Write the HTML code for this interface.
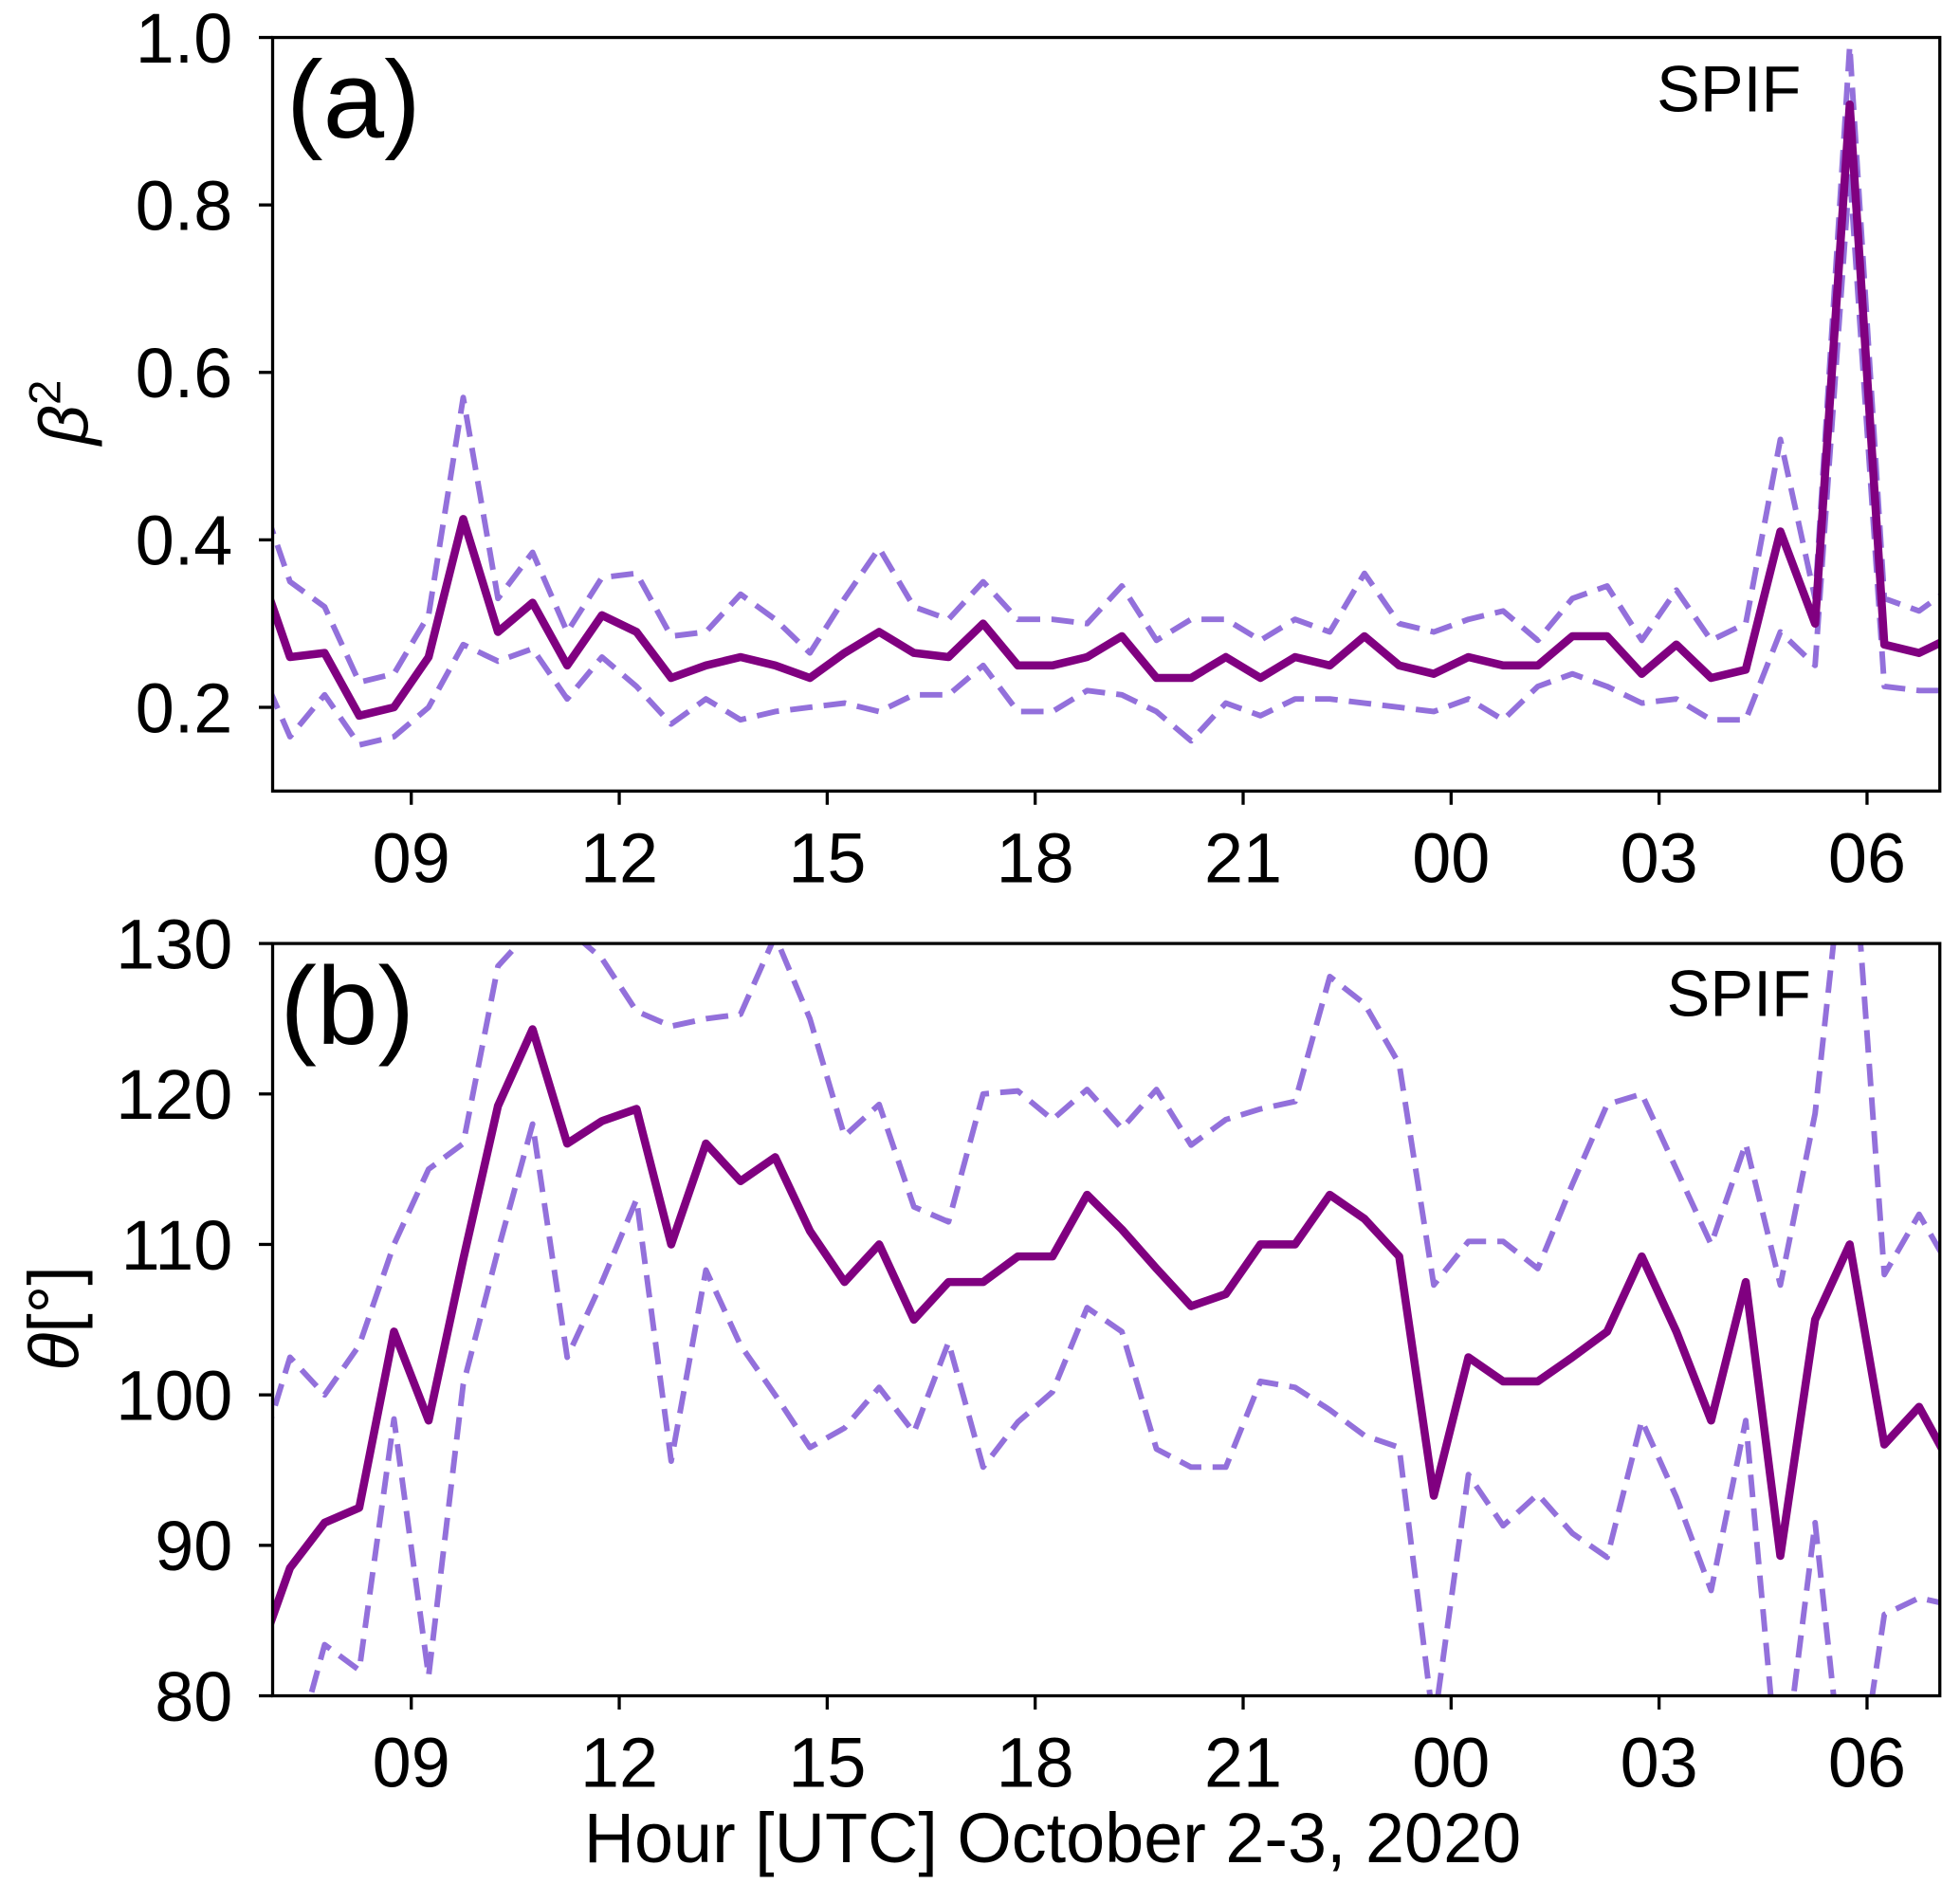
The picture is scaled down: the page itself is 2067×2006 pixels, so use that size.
<!DOCTYPE html>
<html><head><meta charset="utf-8"><style>
html,body{margin:0;padding:0;background:#fff;}
svg{display:block;}
text{font-family:"Liberation Sans","DejaVu Sans",sans-serif;fill:#000;}
</style></head><body>
<svg id="chart" width="2067" height="2006" viewBox="0 0 1568 1522" xmlns="http://www.w3.org/2000/svg">
<defs>
<clipPath id="clipA"><rect x="218" y="30" width="1334" height="603"/></clipPath>
<clipPath id="clipB"><rect x="218" y="755" width="1334" height="602"/></clipPath>
</defs>
<g id="panelA"></g>
<g id="panelB"></g>
</svg>
<script>
// sample times (hours since Oct 2 00 UTC), half-hourly
const times = [];
for (let k = 0; k < 50; k++) times.push(6.75 + 0.5 * k);
const xTickLabels = ["09","12","15","18","21","00","03","06"];
const xTickHours = [9,12,15,18,21,24,27,30];

const betaMean = [0.38,0.26,0.265,0.19,0.2,0.26,0.425,0.29,0.325,0.25,0.31,0.29,0.235,0.25,0.26,0.25,0.235,0.265,0.29,0.265,0.26,0.3,0.25,0.25,0.26,0.285,0.235,0.235,0.26,0.235,0.26,0.25,0.285,0.25,0.24,0.26,0.25,0.25,0.285,0.285,0.24,0.275,0.235,0.245,0.41,0.3,0.92,0.275,0.265,0.285];
const betaUpper = [0.47,0.35,0.32,0.23,0.24,0.31,0.57,0.33,0.385,0.29,0.355,0.36,0.285,0.29,0.335,0.305,0.265,0.33,0.39,0.32,0.305,0.35,0.305,0.305,0.3,0.345,0.28,0.305,0.305,0.28,0.305,0.29,0.36,0.3,0.29,0.305,0.315,0.28,0.33,0.345,0.28,0.34,0.28,0.3,0.52,0.33,0.99,0.33,0.315,0.345];
const betaLower = [0.26,0.165,0.215,0.155,0.165,0.2,0.275,0.255,0.27,0.21,0.26,0.225,0.18,0.21,0.185,0.195,0.2,0.205,0.195,0.215,0.215,0.25,0.195,0.195,0.22,0.215,0.195,0.16,0.205,0.19,0.21,0.21,0.205,0.2,0.195,0.21,0.185,0.225,0.24,0.225,0.205,0.21,0.185,0.185,0.29,0.25,0.84,0.225,0.22,0.22];
const betaTicks = [0.2,0.4,0.6,0.8,1.0];
const betaTickLabels = ["0.2","0.4","0.6","0.8","1.0"];

const thetaMean = [82,88.5,91.5,92.5,104.2,98.3,109,119.2,124.3,116.7,118.2,119,110,116.7,114.2,115.8,110.9,107.5,110,105,107.5,107.5,109.2,109.2,113.3,111,108.4,105.9,106.7,110,110,113.3,111.7,109.2,93.3,102.5,100.9,100.9,102.5,104.2,109.2,104.2,98.3,107.5,89.3,105,110,96.7,99.2,95];
const thetaUpper = [95,102.5,100,103.3,110,115,116.7,128.5,131,131,129,125.5,124.5,125,125.3,130.5,125,117.2,119.3,112.5,111.5,120,120.2,118.3,120.3,117.7,120.3,116.6,118.3,119,119.5,127.8,126,122,107.3,110.2,110.2,108.4,114,119.3,120,115,110,116.7,107.3,118.7,140,108,112,108];
const thetaLower = [65,75,83.4,81.7,98.4,81.3,100.7,109.6,118,102.5,107.5,113,95.6,108.3,103.3,100,96.5,97.8,100.5,97.5,103.5,95.2,98.2,100.2,105.8,104.2,96.4,95.2,95.2,100.9,100.5,99,97.3,96.5,78,94.7,91.3,93.4,90.8,89.2,98.3,93.2,87,98.3,73,91.5,70,85.4,86.5,86];
const thetaTicks = [80,90,100,110,120,130];
const thetaTickLabels = ["80","90","100","110","120","130"];

const NS = "http://www.w3.org/2000/svg";
const L = 218, R = 1552;
function xScale(t){ return L + (t - 7) * (R - L) / (31.05 - 7); }
function mk(tag, attrs, parent){ const e = document.createElementNS(NS, tag); for (const k in attrs) e.setAttribute(k, attrs[k]); parent.appendChild(e); return e; }

function drawPanel(g, top, bottom, ymin, ymax, series, ticks, tickLabels, clipId, label, labelX, spifX, spifY){
  const yScale = v => bottom - (v - ymin) * (bottom - top) / (ymax - ymin);
  const lines = mk("g", {"clip-path": "url(#" + clipId + ")"}, g);
  
  
  series.forEach(s => {
    const d = s.vals.map((v, i) => (i ? "L" : "M") + xScale(times[i]).toFixed(1) + "," + yScale(v).toFixed(1)).join("");
    const p = mk("path", {d: d, fill: "none", stroke: s.color, "stroke-width": s.w, "stroke-linejoin": "round", "stroke-dasharray": s.dash || "none"}, lines);
    
    
  });
  const frame = mk("rect", {x: L, y: top, width: R - L, height: bottom - top, fill: "none", stroke: "#000", "stroke-width": 2.5}, g);
  
  
  ticks.forEach((v, i) => {
    const y = yScale(v);
    const t = mk("line", {x1: L - 11, x2: L, y1: y, y2: y, stroke: "#000", "stroke-width": 2.5}, g);
    
    
    const tx = mk("text", {x: L - 32, y: y + 20, "text-anchor": "end", "font-size": 56}, g);
    tx.textContent = tickLabels[i];
    
    
  });
  xTickHours.forEach((h, i) => {
    const x = xScale(h);
    const t = mk("line", {x1: x, x2: x, y1: bottom, y2: bottom + 11, stroke: "#000", "stroke-width": 2.5}, g);
    
    
    const tx = mk("text", {x: x, y: bottom + 73, "text-anchor": "middle", "font-size": 56}, g);
    tx.textContent = xTickLabels[i];
    
    
  });
  const pl = mk("text", {x: labelX, y: top + 80, "font-size": 88}, g);
  pl.textContent = label;
  
  
  const sp = mk("text", {x: spifX, y: top + spifY, "text-anchor": "end", "font-size": 52}, g);
  sp.textContent = "SPIF";
  
  
}
const purple = "#800080", dashc = "#9370DB";
drawPanel(document.getElementById("panelA"), 30, 633, 0.1, 1.0, [
  {vals: betaUpper, color: dashc, w: 4.5, dash: "18,9", name: "beta-upper-line"},
  {vals: betaLower, color: dashc, w: 4.5, dash: "18,9", name: "beta-lower-line"},
  {vals: betaMean, color: purple, w: 6.5, name: "beta-mean-line"}
], betaTicks, betaTickLabels, "clipA", "(a)", 229, 1441, 59);
drawPanel(document.getElementById("panelB"), 755, 1357, 80, 130, [
  {vals: thetaUpper, color: dashc, w: 4.5, dash: "18,9", name: "theta-upper-line"},
  {vals: thetaLower, color: dashc, w: 4.5, dash: "18,9", name: "theta-lower-line"},
  {vals: thetaMean, color: purple, w: 6.5, name: "theta-mean-line"}
], thetaTicks, thetaTickLabels, "clipB", "(b)", 224, 1449, 58);

const svg = document.getElementById("chart");
const yl1 = mk("text", {transform: "translate(70,330) rotate(-90)", "text-anchor": "middle", "font-size": 56}, svg);
yl1.innerHTML = '<tspan font-style="italic">β</tspan><tspan font-size="36" dy="-22">2</tspan>';


const yl2 = mk("text", {transform: "translate(62,1055) rotate(-90)", "text-anchor": "middle", "font-size": 56}, svg);
yl2.innerHTML = '<tspan font-style="italic">θ</tspan>[°]';


const xl = mk("text", {x: 842, y: 1490, "text-anchor": "middle", "font-size": 56}, svg);
xl.textContent = "Hour [UTC] October 2-3, 2020";


</script>
</body></html>
